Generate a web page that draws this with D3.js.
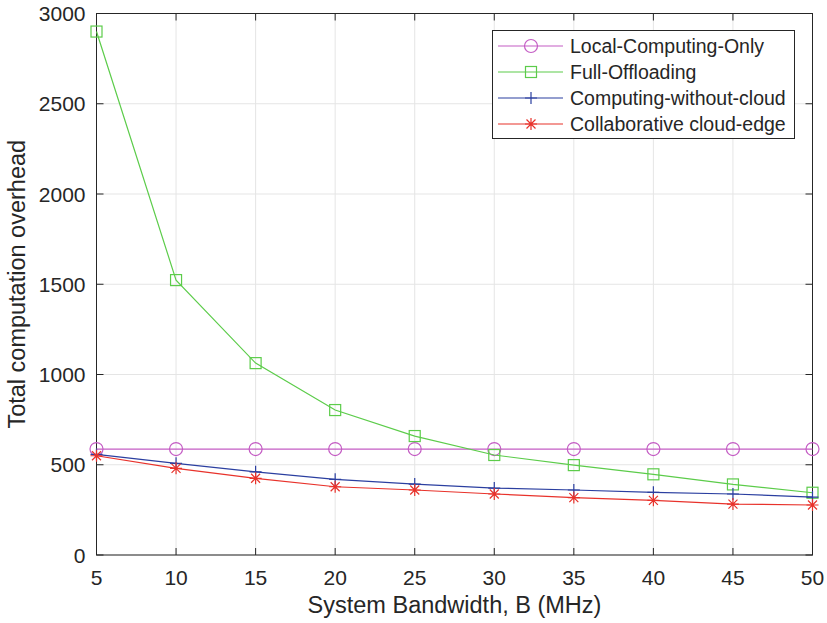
<!DOCTYPE html>
<html>
<head>
<meta charset="utf-8">
<script src="https://cdn.jsdelivr.net/npm/d3@7"></script>
<style>
  body { margin: 0; background: #fff; }
  text { font-family: "Liberation Sans", Arial, Helvetica, sans-serif; fill: #262626; }
</style>
</head>
<body>
<svg id="chart" width="827" height="623"></svg>
<script>
// bandwidth values on the x axis
var bandwidth = [5, 10, 15, 20, 25, 30, 35, 40, 45, 50];

// series values
var localOnly = [587, 587, 587, 587, 587, 587, 587, 587, 587, 587];
var fullOffload = [2900, 1523, 1063, 803, 659, 554, 498, 447, 391, 345];
var noCloud = [557, 508, 461, 419, 393, 371, 360, 347, 338, 321];
var cloudEdge = [550, 480, 425, 378, 360, 338, 318, 303, 282, 277];

var seriesNames = ["Local-Computing-Only", "Full-Offloading", "Computing-without-cloud", "Collaborative cloud-edge"];
var xTicks = [5, 10, 15, 20, 25, 30, 35, 40, 45, 50];
var yTicks = [0, 500, 1000, 1500, 2000, 2500, 3000];

var series = [
	{name: seriesNames[0], values: localOnly, color: "#c45cc4", marker: "circle"},
	{name: seriesNames[1], values: fullOffload, color: "#5ccc4a", marker: "square"},
	{name: seriesNames[2], values: noCloud, color: "#2b3fa0", marker: "plus"},
	{name: seriesNames[3], values: cloudEdge, color: "#e8322b", marker: "star"}
];

var svg = d3.select("#chart");
var plotLeft = 96.5, plotRight = 812.5, plotTop = 13.5, plotBottom = 555;

var x = d3.scaleLinear().domain([5, 50]).range([plotLeft, plotRight]);
var y = d3.scaleLinear().domain([0, 3000]).range([plotBottom, plotTop]);

// grid
var grid = svg.append("g").attr("stroke", "#e5e5e5").attr("stroke-width", 1);
xTicks.forEach(function(t) {
	grid.append("line").attr("x1", x(t)).attr("x2", x(t)).attr("y1", plotTop).attr("y2", plotBottom);
});
yTicks.forEach(function(t) {
	grid.append("line").attr("x1", plotLeft).attr("x2", plotRight).attr("y1", y(t)).attr("y2", y(t));
});

// axes, ticks inward, box all round
var tickLen = 7;
var axisColor = "#262626";
svg.append("rect")
	.attr("x", plotLeft).attr("y", plotTop)
	.attr("width", plotRight - plotLeft).attr("height", plotBottom - plotTop)
	.attr("fill", "none").attr("stroke", axisColor).attr("stroke-width", 1);

var ticks = svg.append("g").attr("stroke", axisColor).attr("stroke-width", 1);
xTicks.forEach(function(t) {
	ticks.append("line").attr("x1", x(t)).attr("x2", x(t)).attr("y1", plotBottom).attr("y2", plotBottom - tickLen);
	ticks.append("line").attr("x1", x(t)).attr("x2", x(t)).attr("y1", plotTop).attr("y2", plotTop + tickLen);
	svg.append("text")
		.attr("x", x(t)).attr("y", plotBottom + 30)
		.attr("text-anchor", "middle")
		.attr("font-size", "21px")
		.text(t);
});
yTicks.forEach(function(t) {
	ticks.append("line").attr("x1", plotLeft).attr("x2", plotLeft + tickLen).attr("y1", y(t)).attr("y2", y(t));
	ticks.append("line").attr("x1", plotRight).attr("x2", plotRight - tickLen).attr("y1", y(t)).attr("y2", y(t));
	svg.append("text")
		.attr("x", plotLeft - 11).attr("y", y(t) + 7.5)
		.attr("text-anchor", "end")
		.attr("font-size", "21px")
		.text(t);
});

// axis labels
svg.append("text")
	.attr("x", (plotLeft + plotRight) / 2).attr("y", 613)
	.attr("text-anchor", "middle")
	.attr("font-size", "23.5px")
	.text("System Bandwidth, B (MHz)");
svg.append("text")
	.attr("transform", "translate(25," + ((plotTop + plotBottom) / 2) + ") rotate(-90)")
	.attr("text-anchor", "middle")
	.attr("font-size", "23.5px")
	.text("Total computation overhead");

function drawMarker(g, kind, cx, cy, color) {
	if (kind === "circle") {
		g.append("circle").attr("cx", cx).attr("cy", cy).attr("r", 6.5)
			.attr("fill", "none").attr("stroke", color).attr("stroke-width", 1.2);
	} else if (kind === "square") {
		g.append("rect").attr("x", cx - 5.5).attr("y", cy - 5.5).attr("width", 11).attr("height", 11)
			.attr("fill", "none").attr("stroke", color).attr("stroke-width", 1.2);
	} else if (kind === "plus") {
		g.append("path").attr("d", "M" + (cx - 6) + "," + cy + "H" + (cx + 6) + "M" + cx + "," + (cy - 6) + "V" + (cy + 6))
			.attr("stroke", color).attr("stroke-width", 1.2);
	} else {
		var r = 6, d = r * 0.75;
		g.append("path")
			.attr("d", "M" + (cx - r) + "," + cy + "H" + (cx + r) +
				"M" + cx + "," + (cy - r) + "V" + (cy + r) +
				"M" + (cx - d) + "," + (cy - d) + "L" + (cx + d) + "," + (cy + d) +
				"M" + (cx - d) + "," + (cy + d) + "L" + (cx + d) + "," + (cy - d))
			.attr("stroke", color).attr("stroke-width", 1.2);
	}
}

var line = d3.line()
	.x(function(d, i) { return x(bandwidth[i]); })
	.y(function(d) { return y(d); });

series.forEach(function(s) {
	var g = svg.append("g");
	g.append("path")
		.datum(s.values)
		.attr("d", line)
		.attr("fill", "none")
		.attr("stroke", s.color)
		.attr("stroke-width", 1.2);
	s.values.forEach(function(v, i) {
		drawMarker(g, s.marker, x(bandwidth[i]), y(v), s.color);
	});
});

// legend
var legend = svg.append("g");
legend.append("rect")
	.attr("x", 492.5).attr("y", 30.5).attr("width", 302).attr("height", 108)
	.attr("fill", "#fff").attr("stroke", axisColor).attr("stroke-width", 1);
series.forEach(function(s, i) {
	var ly = 46 + i * 26;
	legend.append("line").attr("x1", 498).attr("x2", 563).attr("y1", ly).attr("y2", ly)
		.attr("stroke", s.color).attr("stroke-width", 1.2);
	drawMarker(legend, s.marker, 531, ly, s.color);
	legend.append("text")
		.attr("x", 570).attr("y", ly + 7)
		.attr("font-size", "19.5px")
		.text(s.name);
});
</script>
</body>
</html>
